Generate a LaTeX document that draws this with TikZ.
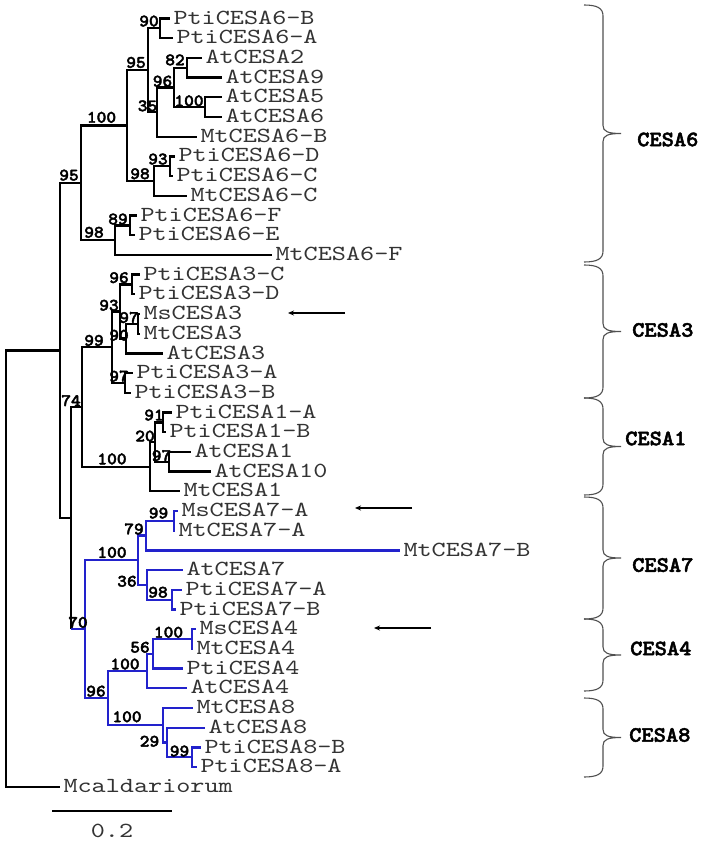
\documentclass[tikz,border=0pt]{standalone}
\usepackage{fontspec}
\usetikzlibrary{arrows.meta}
\newfontfamily\leaffont{lmmono10-regular.otf}[FakeStretch=1.25]
\newfontfamily\boldmono{lmmonolt10-bold.otf}[FakeStretch=1.06,FakeBold=2.2]
\definecolor{treeblue}{RGB}{34,34,204}
\definecolor{bracegray}{RGB}{80,80,80}
\newcommand\lfont{\leaffont\fontsize{21.5}{23}\selectfont}
\newcommand\bsfont{\boldmono\fontsize{17.5}{19}\selectfont}
\newcommand\clfont{\boldmono\fontsize{22}{24}\selectfont}
\newcommand\cladebrace[2]{%
  \draw[cbrace] (584,#1) .. controls (597,#1) and (603,{#1+3}) .. (603,{#1+11})
    -- (603,{(#1+#2)/2-8}) .. controls (603,{(#1+#2)/2-2}) and (608,{(#1+#2)/2}) .. (621,{(#1+#2)/2})
    .. controls (608,{(#1+#2)/2}) and (603,{(#1+#2)/2+2}) .. (603,{(#1+#2)/2+8})
    -- (603,{#2-11}) .. controls (603,{#2-3}) and (597,#2) .. (584,#2);}
\begin{document}
\begin{tikzpicture}[x=1pt,y=-1pt,
  br/.style={line width=2.3pt,draw=black},
  bbr/.style={line width=2.3pt,draw=treeblue},
  leaf/.style={anchor=west,inner xsep=3.5pt,inner ysep=0pt,outer sep=0pt,text height=11.2pt,text depth=0pt,font=\lfont,text=black!80},
  boot/.style={anchor=south,inner sep=0pt,font=\bsfont},
  clade/.style={anchor=west,inner sep=0pt,font=\clfont},
  cbrace/.style={draw=bracegray,line width=1.1pt},
  pointer/.style={line width=1.1pt,-{Stealth[length=6pt,width=5pt]}}]
\useasboundingbox[fill=white] (0,0) rectangle (705,842);

% leaves
\node[leaf] (l1) at (170,18.5) {PtiCESA6-B};
\node[leaf] (l2) at (173,38.2) {PtiCESA6-A};
\node[leaf] (l3) at (202,57.9) {AtCESA2};
\node[leaf] (l4) at (222,77.6) {AtCESA9};
\node[leaf] (l5) at (222,97.3) {AtCESA5};
\node[leaf] (l6) at (222,117.0) {AtCESA6};
\node[leaf] (l7) at (197,136.7) {MtCESA6-B};
\node[leaf] (l8) at (175,156.4) {PtiCESA6-D};
\node[leaf] (l9) at (173,176.1) {PtiCESA6-C};
\node[leaf] (l10) at (187,195.8) {MtCESA6-C};
\node[leaf] (l11) at (137,215.5) {PtiCESA6-F};
\node[leaf] (l12) at (135,235.2) {PtiCESA6-E};
\node[leaf] (l13) at (272,254.9) {MtCESA6-F};
\node[leaf] (l14) at (140,274.6) {PtiCESA3-C};
\node[leaf] (l15) at (135,294.3) {PtiCESA3-D};
\node[leaf] (l16) at (140,314.0) {MsCESA3};
\node[leaf] (l17) at (140,333.7) {MtCESA3};
\node[leaf] (l18) at (163,353.4) {AtCESA3};
\node[leaf] (l19) at (133,373.1) {PtiCESA3-A};
\node[leaf] (l20) at (131,392.8) {PtiCESA3-B};
\node[leaf] (l21) at (172,412.5) {PtiCESA1-A};
\node[leaf] (l22) at (166,432.2) {PtiCESA1-B};
\node[leaf] (l23) at (191,451.9) {AtCESA1};
\node[leaf] (l24) at (211,471.6) {AtCESA10};
\node[leaf] (l25) at (180,491.3) {MtCESA1};
\node[leaf] (l26) at (178,511.0) {MsCESA7-A};
\node[leaf] (l27) at (175,530.7) {MtCESA7-A};
\node[leaf] (l28) at (400,550.4) {MtCESA7-B};
\node[leaf] (l29) at (183,570.1) {AtCESA7};
\node[leaf] (l30) at (182,589.8) {PtiCESA7-A};
\node[leaf] (l31) at (176,609.5) {PtiCESA7-B};
\node[leaf] (l32) at (196,629.2) {MsCESA4};
\node[leaf] (l33) at (193,648.9) {MtCESA4};
\node[leaf] (l34) at (183,668.6) {PtiCESA4};
\node[leaf] (l35) at (187,688.3) {AtCESA4};
\node[leaf] (l36) at (193,708.0) {MtCESA8};
\node[leaf] (l37) at (205,727.7) {AtCESA8};
\node[leaf] (l38) at (201,747.4) {PtiCESA8-B};
\node[leaf] (l39) at (197,767.1) {PtiCESA8-A};
\node[leaf] (l40) at (60,786.8) {Mcaldariorum};

% internal nodes
\coordinate (n90) at (160,28.35);
\coordinate (n82) at (187,67.75);
\coordinate (n100a) at (205,107.15);
\coordinate (n96) at (174,87.45);
\coordinate (n35) at (157,112.1);
\coordinate (n95) at (148,70.2);
\coordinate (n93) at (170,166.25);
\coordinate (n98a) at (154,181.0);
\coordinate (n100b) at (127,125.6);
\coordinate (n89) at (130,225.35);
\coordinate (n98b) at (115,240.1);
\coordinate (n95r) at (81,182.9);
\coordinate (n96c) at (132,284.45);
\coordinate (n97m) at (138,323.85);
\coordinate (n90c) at (126,338.6);
\coordinate (n93c) at (120,311.5);
\coordinate (n97p) at (125,382.95);
\coordinate (n99) at (112,347.2);
\coordinate (n91) at (163,422.35);
\coordinate (n97a) at (169,461.75);
\coordinate (n20) at (155,442.05);
\coordinate (n100c) at (150,466.7);
\coordinate (n74) at (82,406.95);
\coordinate (n99b) at (174,520.85);
\coordinate (n79) at (146,535.6);
\coordinate (n98p) at (172,599.65);
\coordinate (n36) at (147,584.9);
\coordinate (n100d) at (138,560.25);
\coordinate (n100e) at (192,639.05);
\coordinate (n56) at (153,653.8);
\coordinate (n100f) at (147,671.05);
\coordinate (n99c) at (192,757.25);
\coordinate (n29) at (167,742.5);
\coordinate (n100g) at (163,725.25);
\coordinate (n96d) at (108,698.15);
\coordinate (n70) at (85,629.2);
\coordinate (nA) at (71,518.1);
\coordinate (nB) at (60,350.5);
\coordinate (root) at (6,568.65);
\coordinate (nAb) at (nA |- n70);

% black branches
\foreach \p/\c in {root/nB,root/l40.west,nB/n95r,nB/nA,nA/n74,
  n95r/n100b,n95r/n98b,n100b/n95,n100b/n98a,n95/n90,n95/n35,
  n90/l1.west,n90/l2.west,n35/n96,n35/l7.west,n96/n82,n96/n100a,
  n82/l3.west,n82/l4.west,n100a/l5.west,n100a/l6.west,
  n98a/n93,n98a/l10.west,n93/l8.west,n93/l9.west,
  n98b/n89,n98b/l13.west,n89/l11.west,n89/l12.west,
  n74/n99,n74/n100c,n99/n93c,n99/n97p,n93c/n96c,n93c/n90c,
  n96c/l14.west,n96c/l15.west,n90c/n97m,n90c/l18.west,
  n97m/l16.west,n97m/l17.west,n97p/l19.west,n97p/l20.west,
  n100c/n20,n100c/l25.west,n20/n91,n20/n97a,
  n91/l21.west,n91/l22.west,n97a/l23.west,n97a/l24.west}
  \draw[br] (\p) |- (\c);
\draw[br] (nA) -- (nAb);
% blue branches
\draw[bbr] (nAb) -- (n70);
\foreach \p/\c in {n70/n100d,n70/n96d,n100d/n79,n100d/n36,
  n79/n99b,n79/l28.west,n99b/l26.west,n99b/l27.west,
  n36/l29.west,n36/n98p,n98p/l30.west,n98p/l31.west,
  n96d/n100f,n96d/n100g,n100f/n56,n100f/l35.west,
  n56/n100e,n56/l34.west,n100e/l32.west,n100e/l33.west,
  n100g/l36.west,n100g/n29,n29/l37.west,n29/n99c,
  n99c/l38.west,n99c/l39.west}
  \draw[bbr] (\p) |- (\c);

% bootstrap values
\node[boot] (b1) at (69,180.9) {95};
\node[boot] (b2) at (101.5,123.1) {100};
\node[boot] (b3) at (136,68.2) {95};
\node[boot] (b4) at (149,26.8) {90};
\node[boot] (b5) at (147.5,111.6) {35};
\node[boot] (b6) at (162.5,86.9) {96};
\node[boot] (b7) at (175,65.7) {82};
\node[boot] (b8) at (189,106.6) {100};
\node[boot] (b9) at (140,179.5) {98};
\node[boot] (b10) at (158,164.8) {93};
\node[boot] (b11) at (94,238.1) {98};
\node[boot] (b12) at (118,224.8) {89};
\node[boot] (b13) at (94,346.2) {99};
\node[boot] (b14) at (109,311.0) {93};
\node[boot] (b15) at (119,283.4) {96};
\node[boot] (b16) at (129,323.3) {97};
\node[boot] (b17) at (119,341.0) {90};
\node[boot] (b18) at (119,382.0) {97};
\node[boot] (b19) at (71,406.5) {74};
\node[boot] (b20) at (112,464.7) {100};
\node[boot] (b21) at (145,441.8) {20};
\node[boot] (b22) at (154,420.8) {91};
\node[boot] (b23) at (161.5,461.5) {97};
\node[boot] (b24) at (78,628.2) {70};
\node[boot] (b25) at (112,558.2) {100};
\node[boot] (b26) at (134,534.8) {79};
\node[boot] (b27) at (158.5,518.8) {99};
\node[boot] (b28) at (127,587.0) {36};
\node[boot] (b29) at (158,598.0) {98};
\node[boot] (b30) at (96,696.9) {96};
\node[boot] (b31) at (125,669.8) {100};
\node[boot] (b32) at (140,653.0) {56};
\node[boot] (b33) at (168.5,638.0) {100};
\node[boot] (b34) at (127,722.5) {100};
\node[boot] (b35) at (149.5,747.0) {29};
\node[boot] (b36) at (179.5,756.8) {99};

% clade braces and labels
\cladebrace{5}{262}
\cladebrace{265}{398}
\cladebrace{398}{495}
\cladebrace{497}{619}
\cladebrace{619}{691}
\cladebrace{698}{777}
\node[clade] (c6) at (637,139.5) {CESA6};
\node[clade] (c3) at (632,330) {CESA3};
\node[clade] (c1) at (625,438.5) {CESA1};
\node[clade] (c7) at (632,565) {CESA7};
\node[clade] (c4) at (630,648.5) {CESA4};
\node[clade] (c8) at (629,735) {CESA8};

% arrows
\coordinate (a1s) at (345,313); \coordinate (a1e) at (288,313);
\coordinate (a2s) at (412,508); \coordinate (a2e) at (355,508);
\coordinate (a3s) at (431,628); \coordinate (a3e) at (374,628);
\draw[pointer] (a1s) -- (a1e);
\draw[pointer] (a2s) -- (a2e);
\draw[pointer] (a3s) -- (a3e);

% scale bar
\coordinate (sb1) at (52,811);
\coordinate (sb2) at (172,811);
\draw[line width=1.8pt] (sb1) -- (sb2);
\node[anchor=base,inner sep=0pt,font=\lfont,text=black!80] (sbl) at (112,837) {0.2};
\end{tikzpicture}
\end{document}
